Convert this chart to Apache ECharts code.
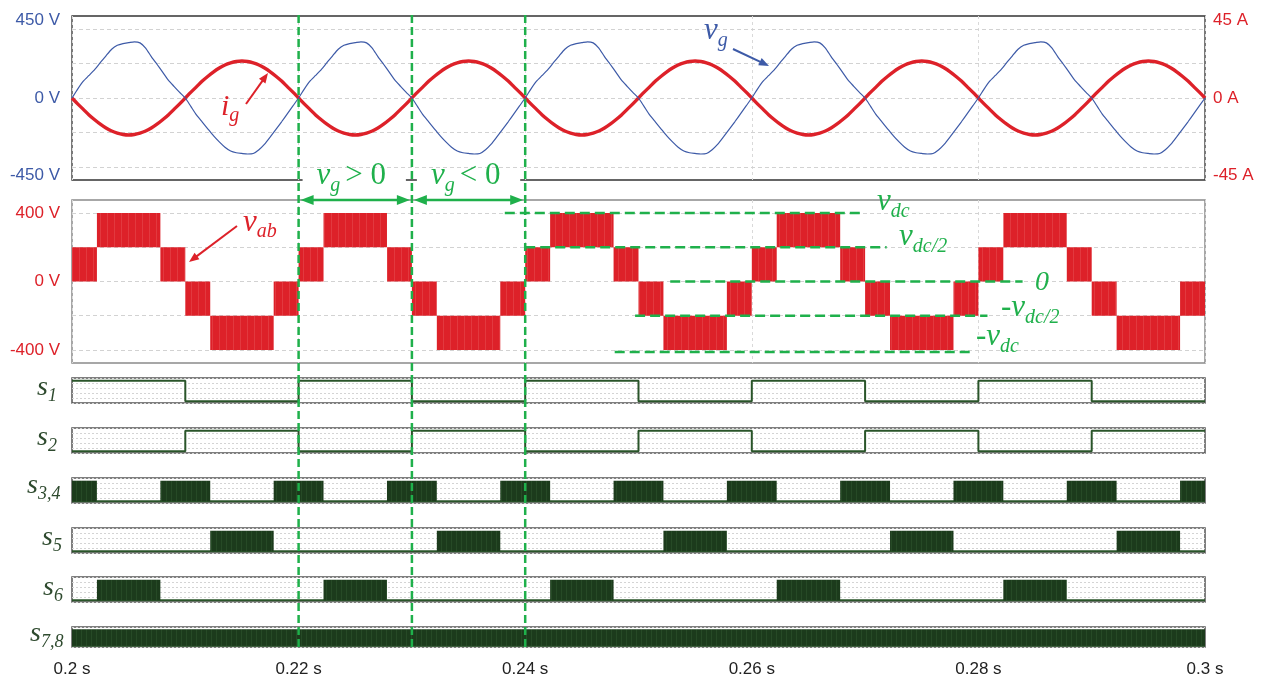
<!DOCTYPE html>
<html><head><meta charset="utf-8">
<script src="https://cdn.jsdelivr.net/npm/echarts@6/dist/echarts.min.js"></script>
<style>html,body{margin:0;padding:0;background:#fff}#c{width:1265px;height:682px}</style>
</head><body><div id="c"></div>
<script>
// ---------------- DATA ----------------
const timeStart = 0.2, timeEnd = 0.3, timeTick = 0.02;
const sampleStep = 0.0005; // seconds between samples of vg / ig
// grid voltage vg (V), every 0.5 ms
const vgValues = [
0,52,98,131,165,205,245,283,306,316,321,326,320,290,240,196,150,104,68,33,0,-50,-100,-140,-180,-220,-255,-286,-308,-318,-322,-325,-322,-300,-268,-226,-182,-138,-92,-46,
0,52,98,131,165,205,245,283,306,316,321,326,320,290,240,196,150,104,68,33,0,-50,-100,-140,-180,-220,-255,-286,-308,-318,-322,-325,-322,-300,-268,-226,-182,-138,-92,-46,
0,52,98,131,165,205,245,283,306,316,321,326,320,290,240,196,150,104,68,33,0,-50,-100,-140,-180,-220,-255,-286,-308,-318,-322,-325,-322,-300,-268,-226,-182,-138,-92,-46,
0,52,98,131,165,205,245,283,306,316,321,326,320,290,240,196,150,104,68,33,0,-50,-100,-140,-180,-220,-255,-286,-308,-318,-322,-325,-322,-300,-268,-226,-182,-138,-92,-46,
0,52,98,131,165,205,245,283,306,316,321,326,320,290,240,196,150,104,68,33,0,-50,-100,-140,-180,-220,-255,-286,-308,-318,-322,-325,-322,-300,-268,-226,-182,-138,-92,-46,
0];
// grid current ig (A), every 0.5 ms
const igValues = [
0,-3.4,-6.6,-9.8,-12.6,-15.2,-17.4,-19.2,-20.4,-21.2,-21.5,-21.2,-20.4,-19.2,-17.4,-15.2,-12.6,-9.8,-6.6,-3.4,0,3.4,6.6,9.8,12.6,15.2,17.4,19.2,20.4,21.2,21.5,21.2,20.4,19.2,17.4,15.2,12.6,9.8,6.6,3.4,
0,-3.4,-6.6,-9.8,-12.6,-15.2,-17.4,-19.2,-20.4,-21.2,-21.5,-21.2,-20.4,-19.2,-17.4,-15.2,-12.6,-9.8,-6.6,-3.4,0,3.4,6.6,9.8,12.6,15.2,17.4,19.2,20.4,21.2,21.5,21.2,20.4,19.2,17.4,15.2,12.6,9.8,6.6,3.4,
0,-3.4,-6.6,-9.8,-12.6,-15.2,-17.4,-19.2,-20.4,-21.2,-21.5,-21.2,-20.4,-19.2,-17.4,-15.2,-12.6,-9.8,-6.6,-3.4,0,3.4,6.6,9.8,12.6,15.2,17.4,19.2,20.4,21.2,21.5,21.2,20.4,19.2,17.4,15.2,12.6,9.8,6.6,3.4,
0,-3.4,-6.6,-9.8,-12.6,-15.2,-17.4,-19.2,-20.4,-21.2,-21.5,-21.2,-20.4,-19.2,-17.4,-15.2,-12.6,-9.8,-6.6,-3.4,0,3.4,6.6,9.8,12.6,15.2,17.4,19.2,20.4,21.2,21.5,21.2,20.4,19.2,17.4,15.2,12.6,9.8,6.6,3.4,
0,-3.4,-6.6,-9.8,-12.6,-15.2,-17.4,-19.2,-20.4,-21.2,-21.5,-21.2,-20.4,-19.2,-17.4,-15.2,-12.6,-9.8,-6.6,-3.4,0,3.4,6.6,9.8,12.6,15.2,17.4,19.2,20.4,21.2,21.5,21.2,20.4,19.2,17.4,15.2,12.6,9.8,6.6,3.4,
0];
// vab PWM bands: [tStart, tEnd, vLow, vHigh]
const vabBlocks = [
[0.2000,0.2022,0,200],[0.2022,0.2078,200,400],[0.2078,0.2100,0,200],
[0.2100,0.2122,-200,0],[0.2122,0.2178,-400,-200],[0.2178,0.2200,-200,0],
[0.2200,0.2222,0,200],[0.2222,0.2278,200,400],[0.2278,0.2300,0,200],
[0.2300,0.2322,-200,0],[0.2322,0.2378,-400,-200],[0.2378,0.2400,-200,0],
[0.2400,0.2422,0,200],[0.2422,0.2478,200,400],[0.2478,0.2500,0,200],
[0.2500,0.2522,-200,0],[0.2522,0.2578,-400,-200],[0.2578,0.2600,-200,0],
[0.2600,0.2622,0,200],[0.2622,0.2678,200,400],[0.2678,0.2700,0,200],
[0.2700,0.2722,-200,0],[0.2722,0.2778,-400,-200],[0.2778,0.2800,-200,0],
[0.2800,0.2822,0,200],[0.2822,0.2878,200,400],[0.2878,0.2900,0,200],
[0.2900,0.2922,-200,0],[0.2922,0.2978,-400,-200],[0.2978,0.3000,-200,0]];
// gate signals
const s1Times  = [0.20,0.21,0.22,0.23,0.24,0.25,0.26,0.27,0.28,0.29,0.30];
const s1Levels = [1,0,1,0,1,0,1,0,1,0,0];
const s2Levels = [0,1,0,1,0,1,0,1,0,1,1];
const s34Blocks = [[0.2000,0.2022],[0.2078,0.2122],[0.2178,0.2222],[0.2278,0.2322],[0.2378,0.2422],[0.2478,0.2522],[0.2578,0.2622],[0.2678,0.2722],[0.2778,0.2822],[0.2878,0.2922],[0.2978,0.3000]];
const s5Blocks  = [[0.2122,0.2178],[0.2322,0.2378],[0.2522,0.2578],[0.2722,0.2778],[0.2922,0.2978]];
const s6Blocks  = [[0.2022,0.2078],[0.2222,0.2278],[0.2422,0.2478],[0.2622,0.2678],[0.2822,0.2878]];
const s78Blocks = [[0.2000,0.3000]];
// axis labels
const vgAxisLabels = [-450,0,450];
const igAxisLabels = [-45,0,45];
const vabAxisLabels = [-400,0,400];
const gridLevels = [-400,-200,0,200,400];
// annotations
const markerTimes = [0.22,0.23,0.24];
const vdcRefs = [
  {v:400,  t0:0.2382, t1:0.2697, pre:'',  sub:'dc'},
  {v:200,  t0:0.2400, t1:0.2719, pre:'',  sub:'dc/2'},
  {v:0,    t0:0.2528, t1:0.2839, pre:'',  sub:''},
  {v:-200, t0:0.2497, t1:0.2808, pre:'-', sub:'dc/2'},
  {v:-400, t0:0.2479, t1:0.2793, pre:'-', sub:'dc'}];
const rowNames = [['s','1'],['s','2'],['s','3,4'],['s','5'],['s','6'],['s','7,8']];

// ---------------- STYLE ----------------
const RED='#dd2129', BLUE='#3d5aa7', GREEN='#1fb04b', DKG='#1d3d1d', SIGLINE='#2a552a', ROWTXT='#2e4a2e';
const SANS='"Liberation Sans", Arial, sans-serif';
const SERIF='"Liberation Serif", "Times New Roman", serif';

function stripes(base, light, period, cols) {
  const c = document.createElement('canvas'); c.width = period; c.height = 4;
  const g = c.getContext('2d'); g.fillStyle = base; g.fillRect(0,0,period,4);
  g.fillStyle = light; cols.forEach(x => g.fillRect(x,0,1,4));
  return c;
}
const redPat = {image: stripes('#dd2129','#e2393f',7,[2]), repeat:'repeat'};
const grnPat = {image: stripes('#1c3b1c','#264a26',5,[1]), repeat:'repeat'};

function rectRenderer(fill, yLowDim, yHighDim, lowConst, highConst) {
  return function(params, api) {
    const lo = yLowDim == null ? lowConst : api.value(yLowDim);
    const hi = yHighDim == null ? highConst : api.value(yHighDim);
    const p0 = api.coord([api.value(0), hi]);
    const p1 = api.coord([api.value(1), lo]);
    return {type:'rect', shape:{x:p0[0], y:p0[1], width:p1[0]-p0[0], height:p1[1]-p0[1]}, style:{fill: fill}};
  };
}

const panelTops = [378,428,478,528,577,627];
const panelHeights = [25,25,25,25,25,20];
const grids = [
  {left:72, right:60, top:16, height:164, show:true, borderColor:'#333', borderWidth:1.3},
  {left:72, right:60, top:200, height:163, show:true, borderColor:'#8a8a8a', borderWidth:1.5}
];
panelTops.forEach((t,i)=>grids.push({left:72, right:60, top:t, height:panelHeights[i], show:true, borderColor:'#555', borderWidth:1.5}));

const xAxes = grids.map((g,i)=>({
  type:'value', gridIndex:i, min:timeStart, max:timeEnd, interval:timeTick,
  axisLine:{show:false}, axisTick:{show:false},
  axisLabel:{show:i===7, color:'#222', fontFamily:SANS, fontSize:17, margin:14,
    formatter:v => (+v.toFixed(2)) + ' s'},
  splitLine:{show:i<2, lineStyle:{color:'#d9d9d9', type:[3,3], width:1}}
}));

const yAxes = [
  {type:'value', gridIndex:0, min:-476, max:476, position:'left', axisLine:{show:false}, axisTick:{show:false}, splitLine:{show:false},
   axisLabel:{customValues:vgAxisLabels, color:BLUE, fontFamily:SANS, fontSize:17, margin:12, formatter:v=>v+' V'}},
  {type:'value', gridIndex:0, min:-47.6, max:47.6, position:'right', axisLine:{show:false}, axisTick:{show:false}, splitLine:{show:false},
   axisLabel:{customValues:igAxisLabels, color:RED, fontFamily:SANS, fontSize:17, margin:8, formatter:v=>v+' A'}},
  {type:'value', gridIndex:1, min:-476, max:476, position:'left', axisLine:{show:false}, axisTick:{show:false}, splitLine:{show:false},
   axisLabel:{customValues:vabAxisLabels, color:RED, fontFamily:SANS, fontSize:17, margin:12, formatter:v=>v+' V'}}
];
panelTops.forEach((t,i)=>yAxes.push({type:'value', gridIndex:i+2, min:-0.08, max:1.13, show:false}));
panelTops.forEach((t,i)=>yAxes.push({type:'value', gridIndex:i+2, min:0, max:5, interval:1,
  axisLine:{show:false}, axisTick:{show:false}, axisLabel:{show:false},
  splitLine:{show:true, lineStyle:{color:'#d4d4d4', type:[2,2], width:1}}}));

const gridMark = {silent:true, symbol:'none', z:1, label:{show:false}, animation:false,
  lineStyle:{color:'#d2d2d2', type:[4,3], width:1}, data: gridLevels.map(v=>({yAxis:v}))};

const series = [
  {type:'line', name:'grid0', xAxisIndex:0, yAxisIndex:0, data:[[timeStart,0]], showSymbol:false, lineStyle:{opacity:0}, z:1, markLine:gridMark},
  {type:'line', name:'ig', xAxisIndex:0, yAxisIndex:1, showSymbol:false, z:8, smooth:0.3,
   lineStyle:{color:RED, width:3.4}, data: igValues.map((v,i)=>[timeStart+i*sampleStep, v])},
  {type:'line', name:'vg', xAxisIndex:0, yAxisIndex:0, showSymbol:false, z:9, smooth:0.2,
   lineStyle:{color:BLUE, width:1.2}, data: vgValues.map((v,i)=>[timeStart+i*sampleStep, v])},
  {type:'line', name:'grid1', xAxisIndex:1, yAxisIndex:2, data:[[timeStart,0]], showSymbol:false, lineStyle:{opacity:0}, z:1, markLine:gridMark},
  {type:'custom', name:'vab', xAxisIndex:1, yAxisIndex:2, z:8, data:vabBlocks, encode:{x:[0,1], y:[2,3]},
   renderItem: rectRenderer(redPat, 2, 3)}
];
// s1, s2
[s1Levels, s2Levels].forEach((lv,i)=>series.push({type:'line', step:'end', xAxisIndex:i+2, yAxisIndex:i+3, showSymbol:false, z:8,
  lineStyle:{color:SIGLINE, width:2}, data: s1Times.map((t,k)=>[t, lv[k]])}));
// block signals
[s34Blocks, s5Blocks, s6Blocks, s78Blocks].forEach((bl,j)=>{
  const i = j+2;
  series.push({type:'line', xAxisIndex:i+2, yAxisIndex:i+3, showSymbol:false, z:7, lineStyle:{color:SIGLINE, width:2},
    data:[[timeStart,0],[timeEnd,0]]});
  series.push({type:'custom', xAxisIndex:i+2, yAxisIndex:i+3, z:8, data:bl, encode:{x:[0,1]},
    renderItem: rectRenderer(grnPat, null, null, 0, 1)});
});

const chart = echarts.init(document.getElementById('c'), null, {renderer:'canvas'});
chart.setOption({animation:false, backgroundColor:'#fff', grid:grids, xAxis:xAxes, yAxis:yAxes, series:series});

// ---------------- ANNOTATIONS ----------------
const mctx = document.createElement('canvas').getContext('2d');
function fontOf(r){ return (r.up ? '' : 'italic ') + r.size + 'px ' + SERIF; }
function mathText(x, base, runs, color) {
  const out = []; let cx = x;
  runs.forEach(r => {
    const f = fontOf(r); mctx.font = f; const w = mctx.measureText(r.t).width;
    out.push({type:'text', x:cx, y: base + (r.dy||0) - 0.34*r.size, z:102,
      style:{text:r.t, font:f, fill:r.color||color, align:'left', verticalAlign:'middle'}});
    cx += w + (r.gap||0);
  });
  return out;
}
function arrow(x1,y1,x2,y2,color,w,len,half,both) {
  const a = Math.atan2(y2-y1, x2-x1), ca=Math.cos(a), sa=Math.sin(a);
  const head = (x,y,c,s)=>{ const bx=x-len*c, by=y-len*s;
    return {type:'polygon', z:101, shape:{points:[[x,y],[bx-half*s, by+half*c],[bx+half*s, by-half*c]]}, style:{fill:color}}; };
  const sx = both ? x1+(len-1)*ca : x1, sy = both ? y1+(len-1)*sa : y1;
  const out = [{type:'line', z:101, shape:{x1:sx,y1:sy,x2:x2-(len-1)*ca,y2:y2-(len-1)*sa}, style:{stroke:color, lineWidth:w}}];
  out.push(head(x2,y2,ca,sa));
  if (both) out.push(head(x1,y1,-ca,-sa));
  return out;
}
const X = t => chart.convertToPixel({xAxisIndex:0}, t);
const YV = v => chart.convertToPixel({yAxisIndex:2}, v);
const g = [];
const mx = markerTimes.map(X);
// white backing for vg>0 / vg<0 labels
g.push({type:'rect', z:100, shape:{x:mx[0]+4, y:170, width:mx[1]-mx[0]-10, height:18}, style:{fill:'#fff'}});
g.push({type:'rect', z:100, shape:{x:mx[1]+5, y:170, width:mx[2]-mx[1]-10, height:18}, style:{fill:'#fff'}});
mx.forEach(x => g.push({type:'line', z:103, shape:{x1:x,y1:15,x2:x,y2:651}, style:{stroke:GREEN, lineWidth:2.5, lineDash:[8,4]}}));
g.push(...arrow(mx[0]+2,200,mx[1]-2,200,GREEN,2.5,13,5,true));
g.push(...arrow(mx[1]+2,200,mx[2]-2,200,GREEN,2.5,13,5,true));
g.push(...mathText(mx[0]+18, 186, [{t:'v',size:31},{t:'g',size:20,dy:7,gap:5},{t:'> 0',size:31,up:true}], GREEN));
g.push(...mathText(mx[1]+19, 186, [{t:'v',size:31},{t:'g',size:20,dy:7,gap:5},{t:'< 0',size:31,up:true}], GREEN));
// vdc reference lines
const refLabelPos = [[877,212],[899,247],[1035,292],[1001,318],[976,347]];
vdcRefs.forEach((r,i)=>{
  const y = YV(r.v) + (r.v===-400 ? 2 : 0);
  g.push({type:'line', z:101, shape:{x1:X(r.t0), y1:y, x2:X(r.t1), y2:y}, style:{stroke:GREEN, lineWidth:2.5, lineDash:[10,5]}});
  const [lx,ly] = refLabelPos[i];
  const runs = r.sub ? [{t:r.pre+'v', size:31},{t:r.sub, size:20, dy:7}] : [{t:'0', size:28}];
  g.push(...mathText(lx, ly, runs, GREEN));
});
// curve labels
g.push(...mathText(221, 117, [{t:'i',size:30},{t:'g',size:20,dy:6}], RED));
g.push(...arrow(246,104,268,73,RED,2,10,4,false));
g.push(...mathText(704, 41, [{t:'v',size:31},{t:'g',size:20,dy:7}], BLUE));
g.push(...arrow(733,49,769,66,BLUE,2,10,4,false));
g.push(...mathText(243, 233, [{t:'v',size:31},{t:'ab',size:20,dy:6}], RED));
g.push(...arrow(237,226,189,262,RED,2,10,4,false));
// row labels
const rowPos = [[37,397],[37,447],[27,495],[42,547],[43,597],[30,643]];
rowNames.forEach((n,i)=>g.push(...mathText(rowPos[i][0], rowPos[i][1], [{t:n[0],size:28},{t:n[1],size:18,dy:5}], ROWTXT)));
chart.setOption({graphic:{elements:g}});
</script></body></html>
